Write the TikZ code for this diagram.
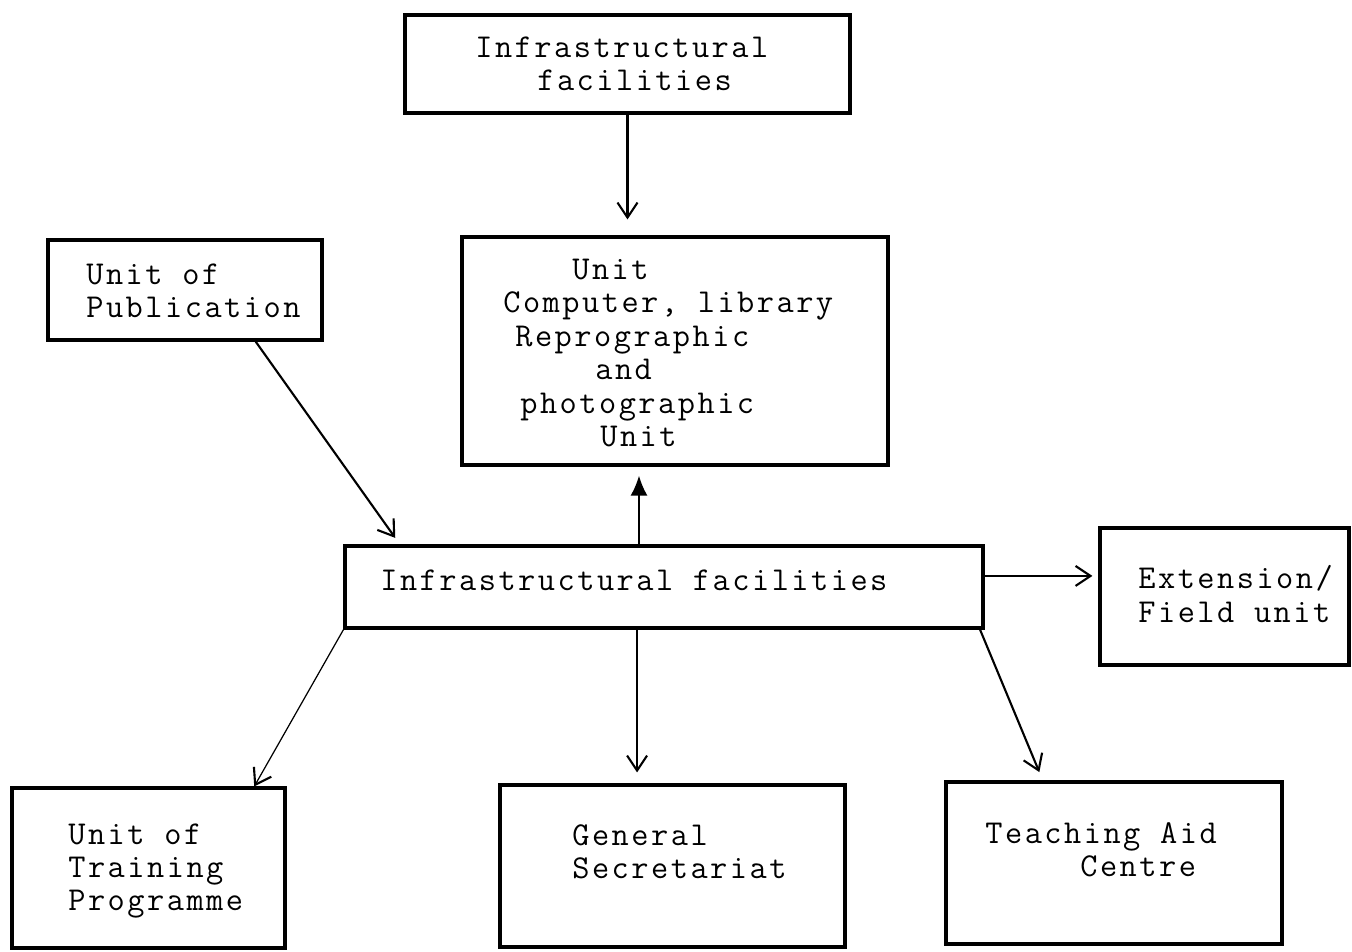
\documentclass[tikz,border=0pt]{standalone}
\usepackage{fontspec}
\setmonofont{Latin Modern Mono}[LetterSpace=7.5]
\usetikzlibrary{arrows.meta,calc}

\begin{document}
\begin{tikzpicture}[x=0.02cm,y=-0.02cm,
    unit/.style ={rectangle, draw, line width=1.8pt, inner sep=0pt},
    caption/.style ={anchor=west, align=left, inner sep=0pt,
      font=\ttfamily\fontsize{19}{19}\selectfont},
    link/.style ={line width=1.2pt,
      -{Straight Barb[length=0.3cm,width=0.4cm,line width=1.2pt]}}]
   \useasboundingbox (0,0) rectangle (1352,951);

   \node[unit,minimum width=8.9cm,minimum height=1.96cm] (A) at (627.5,64) {};
   \node[unit,minimum width=8.52cm,minimum height=4.56cm] (B) at (675,351) {};
   \node[unit,minimum width=5.48cm,minimum height=2cm] (C) at (185,290) {};
   \node[unit,minimum width=12.76cm,minimum height=1.64cm] (D) at (664,587) {};
   \node[unit,minimum width=4.98cm,minimum height=2.74cm] (E) at (1224.5,596.5) {};
   \node[unit,minimum width=5.46cm,minimum height=3.2cm] (F) at (148.5,868) {};
   \node[unit,minimum width=6.9cm,minimum height=3.24cm] (G) at (672.5,866) {};
   \node[unit,minimum width=6.72cm,minimum height=3.24cm] (H) at (1114,863) {};

   \node[caption] (a) at (475,64) {Infrastructural\\\hspace*{1.24cm}facilities};
   \node[caption] (b) at (503,353) {\hspace*{1.38cm}Unit\\Computer, library\\
     \hspace*{0.24cm}Reprographic\\\hspace*{1.84cm}and\\
     \hspace*{0.34cm}photographic\\\hspace*{1.94cm}Unit};
   \node[caption] (c) at (86,291) {Unit of\\Publication};
   \node[caption] (d) at (380,580) {Infrastructural facilities};
   \node[caption] (e) at (1138,594) {Extension/\\Field unit};
   \node[caption] (f) at (68,871) {Unit of\\Training\\Programme};
   \node[caption] (g) at (572,852) {General\\Secretariat};
   \node[caption] (h) at (985,850) {Teaching Aid\\\hspace*{1.9cm}Centre};

   \coordinate (up) at ($(D.north west)!0.461!(D.north east)$);
   \coordinate (down) at ($(D.south west)!0.458!(D.south east)$);
   \coordinate (right) at ($(D.north east)!0.37!(D.south east)$);

   \draw[link,shorten >=0.32cm] (A.south) to (A.south |- B.north);
   \draw[line width=1.2pt,-{Latex[length=0.4cm,width=0.34cm]},shorten >=0.18cm]
     (up) to (up |- B.south);
   \draw[link,shorten >=0.16cm] ($(C.south west)!0.755!(C.south east)$)
     to ($(D.north west)!0.088!(D.north east)$);
   \draw[link,shorten >=0.12cm] (right) to (right -| E.west);
   \draw[link,line width=0.7pt] (D.south west)
     to ($(F.north west)!0.883!(F.north east)$);
   \draw[link,shorten >=0.22cm] (down) to (down |- G.north);
   \draw[link,shorten >=0.18cm] ($(D.south west)!0.993!(D.south east)$)
     to ($(H.north west)!0.29!(H.north east)$);
 \end{tikzpicture}
\end{document}
